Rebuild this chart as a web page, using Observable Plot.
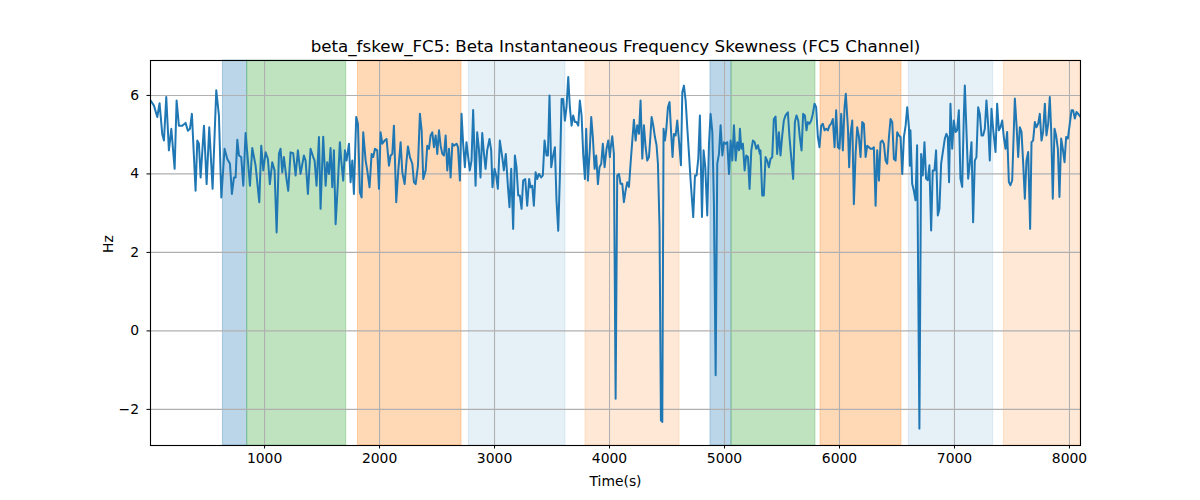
<!DOCTYPE html>
<html>
<head>
<meta charset="utf-8">
<script src="https://cdn.jsdelivr.net/npm/d3@7"></script>
<script src="https://cdn.jsdelivr.net/npm/@observablehq/plot@0.6"></script>
<style>
  html, body { margin: 0; padding: 0; background: #fff; }
  #chart { width: 1200px; height: 500px; }
</style>
</head>
<body>
<div id="chart"></div>
<script>
const titleText = "beta_fskew_FC5: Beta Instantaneous Frequency Skewness (FC5 Channel)";
const xLabel = "Time(s)";
const yLabel = "Hz";
const xTicks = [1000, 2000, 3000, 4000, 5000, 6000, 7000, 8000];
const yTicks = [-2, 0, 2, 4, 6];
const xDomain = [8, 8096];
const yDomain = [-2.92, 6.89];

const times = [
  9, 38, 67, 87, 110, 125, 145, 168, 189, 218, 235, 255, 284, 313, 333, 351, 368, 400, 415, 429,
  444, 473, 496, 519, 548, 580, 603, 624, 652, 676, 699, 716, 734, 748, 763, 777, 797, 815, 835, 855,
  873, 893, 922, 954, 971, 989, 1009, 1029, 1046, 1067, 1087, 1105, 1125, 1139, 1154, 1168, 1191, 1206, 1226, 1249,
  1270, 1290, 1313, 1342, 1357, 1377,
  1400, 1423, 1435, 1452, 1473, 1487, 1510, 1531, 1545, 1560, 1574, 1589, 1603, 1618, 1638, 1655, 1667, 1684, 1699, 1713,
  1734, 1748, 1763, 1777, 1797, 1812, 1829, 1844, 1858, 1879, 1893, 1913, 1931, 1945, 1960, 1980, 1995, 2009, 2024, 2044,
  2061, 2082, 2096, 2111, 2125, 2145, 2163, 2183, 2198, 2218, 2235, 2247, 2264, 2285, 2299, 2314, 2334, 2351, 2366, 2380,
  2401, 2415, 2430, 2444, 2459, 2473, 2488, 2502, 2517, 2531, 2546, 2560, 2575, 2589, 2604, 2618, 2633, 2647, 2670, 2682,
  2699,
  2713, 2727, 2742, 2756, 2771, 2785, 2800, 2814, 2835, 2849, 2864, 2878, 2893, 2907, 2922, 2936, 2956, 2971, 2982, 3000,
  3014, 3029, 3046, 3067, 3081, 3098, 3116, 3130, 3145, 3162, 3177, 3191, 3206, 3220, 3235, 3249, 3267, 3284, 3301, 3313,
  3328, 3342, 3357, 3371, 3386, 3406, 3420, 3435, 3452, 3464, 3478, 3493, 3507, 3525, 3539, 3554, 3568, 3583, 3597, 3612,
  3626, 3641, 3655, 3670, 3684, 3699, 3713, 3728, 3742, 3757, 3771, 3786, 3797, 3812, 3829, 3841, 3855, 3870, 3884, 3899,
  3913, 3928, 3942, 3957, 3974, 3989, 4003,
  4009, 4024, 4038, 4053, 4067, 4082, 4096, 4111, 4125, 4140, 4154, 4169, 4183, 4198, 4212, 4227, 4241, 4256, 4270, 4285,
  4299, 4314, 4328, 4343, 4357, 4366, 4380, 4395, 4409, 4421, 4435, 4447, 4459, 4470, 4482, 4493, 4508, 4522, 4537, 4548,
  4560, 4575, 4589, 4604, 4621, 4633, 4647, 4662, 4676, 4691, 4705, 4728, 4743, 4757, 4772, 4786, 4804, 4818, 4833, 4850,
  4865, 4879, 4894, 4908, 4923, 4937, 4952, 4966, 4981, 4995, 5010, 5024, 5039, 5053, 5068, 5082, 5097, 5111, 5126, 5134,
  5146, 5160, 5175, 5189, 5204, 5218, 5233, 5247, 5262, 5276, 5291, 5308,
  5313, 5328, 5342, 5357, 5371, 5386, 5400, 5415, 5429, 5444, 5458, 5473, 5487, 5502, 5516, 5531, 5551, 5565, 5580, 5597,
  5612, 5626, 5641, 5655, 5670, 5684, 5699, 5713, 5725, 5739, 5754, 5768, 5783, 5797, 5812, 5826, 5841, 5855, 5870, 5884,
  5899, 5913, 5928, 5942, 5957, 5971, 5986, 6000, 6015, 6029, 6044, 6055, 6073, 6084, 6096, 6111, 6125, 6140, 6154, 6169,
  6183, 6198, 6212, 6227, 6241, 6256, 6270, 6285, 6299, 6314, 6328, 6343, 6357, 6372, 6386, 6401, 6415, 6430, 6444, 6459,
  6473, 6488, 6502, 6517, 6531, 6546, 6560, 6575, 6589, 6604, 6612,
  6617, 6632, 6646, 6661, 6675, 6695, 6710, 6724, 6739, 6753, 6768, 6782, 6797, 6811, 6826, 6840, 6855, 6869, 6884, 6901,
  6916, 6930, 6942, 6953, 6965, 6980, 6994, 7009, 7023, 7038, 7052, 7067, 7081, 7090, 7104, 7119, 7133, 7148, 7162, 7177,
  7191, 7206, 7220, 7235, 7249, 7264, 7278, 7293, 7307, 7322, 7336, 7357, 7371, 7386, 7400, 7415, 7429, 7444, 7458, 7473,
  7487, 7502, 7525, 7539, 7554, 7568, 7583, 7597, 7612, 7626, 7641, 7658, 7670, 7684, 7699, 7713, 7728, 7742, 7757, 7771,
  7786, 7800, 7815, 7829, 7841, 7855, 7870, 7884, 7899, 7913, 7928, 7942, 7957, 7971, 7986, 8003, 8018, 8032, 8047, 8061,
  8076, 8096
];

const hz = [
  5.87, 5.74, 5.45, 5.80, 5.02, 4.85, 5.96, 4.60, 5.15, 4.13, 5.87, 5.23, 5.23, 5.30, 5.10, 5.15, 5.53, 3.57, 4.85, 4.77,
  3.91, 5.23, 3.74, 5.19, 3.62, 6.13, 5.49, 3.40, 4.64, 4.38, 4.26, 3.49, 3.91, 3.91, 4.87, 4.47, 4.43, 3.70, 5.04, 4.34,
  3.70, 4.66, 4.21, 3.28, 4.72, 4.09, 4.55, 4.38, 3.74, 4.30, 4.09, 2.51, 4.51, 4.64, 4.04, 4.43, 3.87, 3.57, 4.55, 4.53,
  3.96, 4.60, 4.00, 4.47, 4.34, 3.49,
  4.64, 4.43, 4.34, 3.70, 4.94, 3.11, 4.95, 3.70, 4.30, 4.00, 4.66, 3.66, 4.60, 2.72, 3.79, 4.81, 4.34, 3.83, 4.60, 4.34,
  4.77, 3.79, 4.34, 3.49, 5.45, 5.28, 3.53, 3.40, 5.06, 4.34, 4.09, 3.66, 4.51, 4.43, 4.64, 4.60, 3.62, 5.06, 4.77, 4.85,
  4.89, 4.21, 4.47, 4.51, 5.23, 3.28, 4.09, 4.81, 4.04, 3.74, 4.34, 4.70, 4.43, 4.26, 3.79, 3.74, 4.21, 5.53, 5.11, 3.87,
  4.09, 4.72, 4.64, 4.98, 5.06, 4.68, 4.98, 4.51, 5.11, 4.72, 4.51, 4.47, 4.98, 4.09, 4.64, 3.91, 4.77, 4.72, 4.77, 4.68,
  3.83,
  5.53, 4.77, 4.17, 4.81, 4.43, 4.09, 4.34, 5.63, 3.70, 5.06, 4.64, 3.91, 5.04, 4.55, 4.13, 4.60, 4.89, 4.60, 3.66, 4.13,
  3.96, 3.62, 4.85, 4.43, 4.09, 4.51, 3.70, 3.15, 4.13, 2.60, 4.47, 4.17, 3.45, 3.45, 3.11, 3.83, 3.87, 3.19, 3.87, 3.66,
  3.70, 3.19, 4.04, 3.87, 4.00, 3.91, 3.96, 4.85, 4.47, 4.47, 6.00, 4.17, 4.43, 4.68, 3.32, 2.55, 3.91, 5.91, 5.91, 5.36,
  5.70, 6.47, 5.70, 5.23, 5.49, 5.32, 5.32, 5.23, 5.87, 5.49, 4.51, 3.87, 5.15, 3.83, 4.64, 5.45, 4.94, 4.13, 4.47, 3.74,
  4.17, 4.26, 4.77, 4.17, 4.64, 4.85, 4.43,
  4.64, 4.96, 4.51, -1.73, 3.96, 4.00, 3.75, 3.75, 3.28, 3.58, 3.79, 3.67, 4.26, 4.85, 5.38, 4.85, 5.24, 5.02, 5.87, 4.39,
  5.24, 4.68, 4.34, 4.43, 5.02, 5.45, 5.24, 4.94, 4.73, 4.26, 2.65, -2.28, -2.32, 5.15, 4.85, 5.11, 5.70, 5.83, 4.98, 4.43,
  5.02, 4.98, 5.36, 4.85, 4.22, 6.08, 6.25, 5.87, 5.19, 4.51, 3.84, 2.90, 3.96, 3.96, 4.39, 5.49, 2.90, 4.60, 4.17, 2.94,
  4.77, 5.53, 5.07, 3.24, -1.13, 4.26, 4.51, 5.24, 4.47, 4.81, 4.77, 4.81, 4.00, 4.85, 4.34, 5.24, 4.34, 4.81, 4.60, 5.15,
  4.64, 4.77, 4.09, 4.47, 4.43, 3.62, 4.60, 4.85, 4.81, 4.64, 4.73, 4.51,
  4.60, 3.45, 3.45, 4.43, 4.34, 4.17, 4.38, 4.43, 5.40, 5.46, 4.51, 5.06, 4.47, 4.98, 5.36, 5.49, 5.57, 4.94, 4.43, 3.87,
  5.32, 5.49, 5.36, 4.94, 4.60, 5.53, 5.49, 5.11, 5.32, 5.28, 5.36, 5.53, 5.79, 5.70, 4.94, 4.68, 5.23, 5.28, 5.11, 5.15,
  5.11, 5.23, 5.28, 5.40, 4.68, 5.62, 4.68, 4.64, 5.53, 4.60, 5.70, 6.04, 5.19, 4.17, 5.02, 5.36, 3.23, 4.51, 5.19, 4.94,
  4.43, 5.32, 5.28, 4.43, 4.72, 4.68, 4.64, 4.64, 4.68, 3.19, 4.60, 3.83, 4.81, 4.85, 4.77, 4.34, 4.26, 4.94, 5.40, 5.32,
  4.38, 4.34, 5.06, 4.98, 4.94, 4.00, 4.94, 5.23, 5.70, 5.19, 4.21,
  5.11, 3.75, 3.58, 3.33, 4.73, -2.49, 4.51, 3.96, 4.81, 3.88, 3.84, 4.22, 2.56, 4.09, 4.09, 4.60, 2.94, 3.11, 4.26, 4.60,
  4.90, 5.02, 4.94, 3.79, 5.79, 4.64, 5.36, 5.07, 5.11, 5.62, 3.88, 3.67, 5.45, 6.25, 5.11, 3.88, 4.26, 4.81, 2.77, 4.34,
  4.43, 5.70, 5.53, 4.98, 4.98, 5.15, 5.87, 5.24, 4.34, 5.66, 5.15, 4.56, 5.79, 5.11, 5.19, 5.36, 4.94, 4.64, 5.07, 3.79,
  3.71, 3.84, 5.92, 5.28, 4.43, 5.19, 5.07, 4.30, 3.37, 4.34, 4.56, 2.60, 4.81, 4.85, 5.32, 5.19, 5.28, 5.53, 4.85, 5.07,
  5.79, 4.98, 5.28, 5.96, 5.11, 3.37, 5.15, 4.98, 4.64, 3.41, 4.90, 4.64, 4.30, 4.94, 4.90, 5.28, 5.62, 5.62, 5.41, 5.58,
  5.53, 5.45
];

const regionStart = [638, 849, 1812, 2777, 3791, 4878, 5061, 5835, 6603, 7429];
const regionEnd   = [849, 1710, 2713, 3617, 4609, 5061, 5791, 6539, 7337, 8096];
const regionPhase = ["A", "B", "C", "D", "E", "A", "B", "C", "D", "E"];

const phaseColor = {A: "#1f77b4", B: "#2ca02c", C: "#ff7f0e", D: "#1f77b4", E: "#ff7f0e"};
const phaseOpacity = {A: 0.3, B: 0.3, C: 0.3, D: 0.11, E: 0.17};

const n = Math.min(times.length, hz.length);
const series = d3.range(n).map(i => ({t: times[i], v: hz[i]}));
const regions = regionStart.map((s, i) => ({x1: s, x2: regionEnd[i], phase: regionPhase[i]}));

const font = "DejaVu Sans, Liberation Sans, sans-serif";

const chart = Plot.plot({
  width: 1200,
  height: 500,
  marginLeft: 150,
  marginRight: 120,
  marginTop: 60,
  marginBottom: 55,
  style: {fontFamily: font, fontSize: "13.9px", color: "#000", background: "#fff"},
  x: {domain: xDomain},
  y: {domain: yDomain},
  marks: [
    Plot.rectX(regions, {
      x1: "x1", x2: "x2", y1: yDomain[0], y2: yDomain[1],
      fill: d => phaseColor[d.phase],
      fillOpacity: d => phaseOpacity[d.phase],
      stroke: d => phaseColor[d.phase],
      strokeOpacity: d => phaseOpacity[d.phase],
      strokeWidth: 1
    }),
    Plot.gridX(xTicks, {stroke: "#b0b0b0", strokeOpacity: 1, strokeWidth: 1.1}),
    Plot.gridY(yTicks, {stroke: "#b0b0b0", strokeOpacity: 1, strokeWidth: 1.1}),
    Plot.line(series, {x: "t", y: "v", stroke: "#1f77b4", strokeWidth: 2, clip: true}),
    Plot.frame({stroke: "#000", strokeWidth: 1.1}),
    Plot.axisX(xTicks, {tickSize: 3.5, tickPadding: 4, tickFormat: d => String(d), label: null, fontSize: 13.9}),
    Plot.axisY(yTicks, {tickSize: 3.5, tickPadding: 8, tickFormat: d3.format("d"), label: null, fontSize: 13.9}),
    Plot.text([titleText], {frameAnchor: "top", dy: -14, lineAnchor: "middle", fontSize: 16.7, fill: "#000"}),
    Plot.text([xLabel], {frameAnchor: "bottom", dy: 36, lineAnchor: "middle", fontSize: 13.9, fill: "#000"}),
    Plot.text([yLabel], {frameAnchor: "left", dx: -42, lineAnchor: "middle", rotate: -90, fontSize: 13.9, fill: "#000"})
  ]
});

document.getElementById("chart").appendChild(chart);
</script>
</body>
</html>
